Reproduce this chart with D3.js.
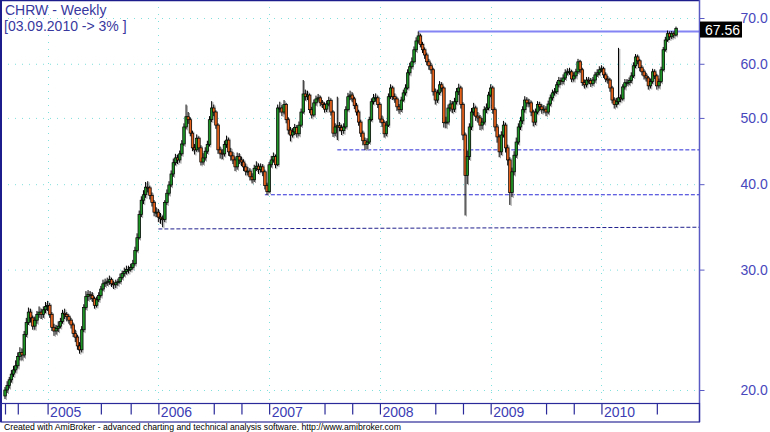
<!DOCTYPE html>
<html>
<head>
<meta charset="utf-8">
<script src="https://cdn.jsdelivr.net/npm/d3@7"></script>
<style>
  body { margin: 0; background: #fff; }
  svg text { font-family: Arial, "Liberation Sans", sans-serif; }
</style>
</head>
<body>
<div id="chart"></div>
<script>
// Weekly bars, first one is the week ending Fri 20 Aug 2004, last one 03.09.2010
const firstWeek = new Date(2004, 7, 20);
const firstOpen = 19.6;

const closes = [
  20.0,20.3,20.7,21.1,21.4,21.7,22.4,22.7,22.5,24.1,
  25.1,26.0,25.5,24.8,25.3,25.8,26.0,25.8,26.2,26.5,
  26.6,25.8,24.7,24.4,24.6,24.8,25.2,25.9,25.8,25.6,
  25.3,24.9,24.2,23.9,23.2,22.9,24.5,26.4,27.4,27.6,
  27.5,27.2,26.6,27.1,27.5,28.1,28.6,28.7,28.8,29.0,
  28.6,28.5,28.7,28.8,29.2,29.6,29.8,30.0,30.0,30.2,
  30.6,32.0,33.4,36.1,37.9,38.6,39.6,39.5,38.5,37.6,
  36.4,36.4,35.8,35.6,35.5,37.6,38.8,39.9,41.4,43.0,
  43.7,43.4,44.3,45.8,48.5,50.2,49.7,47.5,45.2,44.9,
  46.7,45.2,43.1,43.7,44.7,45.7,49.7,51.7,51.0,48.8,
  44.9,44.4,44.3,45.7,46.4,44.6,44.0,43.4,42.4,43.9,
  43.4,43.1,42.4,41.8,41.8,41.0,40.6,42.2,42.5,42.0,
  42.4,41.7,39.8,39.0,42.7,43.4,43.9,42.7,51.7,51.7,
  51.0,52.3,49.7,48.0,47.2,47.7,48.4,47.4,48.8,51.0,
  54.2,53.7,54.0,51.4,50.5,52.6,53.3,53.5,52.6,52.3,
  51.5,52.4,53.0,51.0,47.5,48.5,48.7,48.4,47.9,48.5,
  51.4,53.7,54.0,53.3,52.1,51.0,49.3,47.5,46.3,45.7,
  46.1,49.7,52.8,53.5,53.5,52.3,49.8,49.2,47.4,48.8,
  53.7,55.3,53.7,53.3,51.9,51.4,53.1,54.4,55.3,58.2,
  59.4,60.4,62.9,64.8,65.9,64.0,62.9,61.8,60.4,59.6,
  58.8,54.6,53.1,54.4,55.9,55.3,49.2,49.3,51.7,52.4,
  51.5,52.8,54.6,55.3,52.3,47.2,41.2,43.9,48.5,51.0,
  51.7,50.3,50.0,48.8,49.3,51.4,51.7,54.0,55.3,51.4,
  48.5,46.9,44.6,47.2,48.8,45.2,43.4,38.9,41.7,44.1,
  46.1,48.5,49.5,51.4,53.1,52.6,52.6,51.0,49.3,51.0,
  52.3,51.9,51.4,51.5,51.0,52.4,53.5,54.4,54.6,55.9,
  56.7,56.5,57.2,58.2,58.4,58.4,57.0,57.6,58.4,60.4,
  58.8,56.3,55.9,56.8,56.7,56.1,56.8,57.8,58.2,58.8,
  59.0,57.8,57.0,56.8,55.3,53.1,52.3,52.8,53.5,53.3,
  55.5,56.3,56.3,56.7,57.6,59.6,61.4,60.6,59.2,58.4,
  57.6,57.2,55.7,56.5,58.4,57.6,55.7,56.5,58.8,62.9,
  65.0,66.4,65.7,66.4,66.1,67.56
];

const highs = [
  20.2,20.6,20.9,21.4,21.7,22.1,22.7,23.1,23.0,24.4,
  25.5,26.4,26.3,25.7,25.6,26.1,26.5,26.3,26.5,26.9,
  27.0,26.8,26.0,25.0,24.9,25.2,25.5,26.2,26.3,26.0,
  25.8,25.5,25.1,24.5,24.1,23.5,24.8,26.7,27.9,28.0,
  27.9,27.8,27.4,27.4,27.8,28.4,29.0,29.1,29.2,29.4,
  29.2,28.9,29.0,29.1,29.6,29.9,30.2,30.4,30.4,30.6,
  31.0,32.4,33.9,36.6,38.4,39.2,40.3,40.4,39.8,38.9,
  37.9,37.0,36.8,36.3,36.0,37.9,39.3,40.4,41.9,43.6,
  44.3,44.2,44.8,46.4,49.1,52.3,51.0,50.1,47.9,45.8,
  47.3,47.0,45.6,44.4,45.3,46.3,50.3,52.9,52.3,51.3,
  49.1,45.4,45.0,46.3,47.1,46.8,45.2,44.6,43.8,44.5,
  44.4,43.9,43.5,42.9,42.4,42.2,41.5,42.7,43.2,42.9,
  42.9,42.8,42.0,40.2,43.1,44.0,44.5,44.2,52.3,52.8,
  52.2,53.1,52.6,50.1,48.5,48.3,49.0,48.8,49.4,51.6,
  56.8,55.0,54.8,54.3,51.9,53.2,53.9,54.2,53.9,53.1,
  52.7,53.0,53.7,53.4,51.3,49.1,53.7,49.3,48.9,49.1,
  52.0,54.4,54.8,54.5,53.7,52.6,51.4,49.7,47.9,46.8,
  46.7,50.2,53.4,54.2,54.3,53.9,52.7,50.4,49.6,49.5,
  54.3,56.0,55.7,54.3,53.7,52.4,53.7,55.0,56.0,58.9,
  60.2,61.3,63.6,65.6,66.9,66.4,64.6,63.4,62.3,61.0,
  60.2,59.2,55.2,55.0,56.6,56.4,55.6,50.2,52.3,53.1,
  52.9,53.5,55.3,56.1,55.7,52.7,47.6,44.8,49.1,51.7,
  52.6,52.1,51.0,50.5,50.0,52.0,52.5,54.6,56.0,55.7,
  51.8,49.0,47.3,47.8,49.5,49.2,45.7,43.8,42.3,44.7,
  46.8,49.1,50.2,52.0,53.8,53.6,53.3,53.0,51.4,51.6,
  52.9,52.8,52.4,52.2,52.0,53.0,54.1,55.0,55.3,56.5,
  57.4,57.3,57.9,58.9,59.1,59.2,58.8,58.3,59.0,61.0,
  60.8,59.2,56.9,57.4,57.4,57.2,57.4,58.4,58.9,59.5,
  59.7,59.4,58.3,57.6,57.2,55.7,53.6,53.5,63.3,54.1,
  56.0,57.0,57.0,57.3,58.3,60.3,62.0,61.9,61.0,59.7,
  58.9,58.2,57.6,57.1,59.0,58.9,58.0,57.1,59.4,63.5,
  65.7,67.1,66.9,67.0,66.9,68.0
];

const lows = [
  19.4,19.8,20.1,20.5,20.9,21.2,21.5,22.1,22.1,22.3,
  23.9,24.9,25.1,24.5,24.5,25.0,25.5,25.4,25.5,25.9,
  26.1,25.5,24.4,24.0,24.1,24.3,24.6,25.0,25.4,25.2,
  25.0,24.6,23.9,23.5,22.9,22.6,22.7,24.3,26.2,27.0,
  27.1,26.9,26.3,26.4,26.9,27.3,27.9,28.3,28.4,28.5,
  28.3,28.1,28.2,28.4,28.6,29.0,29.3,29.5,29.6,29.8,
  30.0,30.4,31.8,33.2,35.8,37.4,38.2,38.9,38.0,37.1,
  35.9,35.8,35.2,35.0,34.6,35.2,37.3,38.5,39.6,41.0,
  42.6,42.8,43.0,44.0,45.5,48.1,49.0,47.0,44.7,44.2,
  44.6,44.6,42.6,42.7,43.3,44.3,45.4,49.3,50.3,48.2,
  44.3,43.6,43.5,43.9,45.2,44.0,43.3,42.8,41.8,42.0,
  42.8,42.5,41.8,41.2,41.2,40.5,40.1,40.3,41.8,41.4,
  41.6,41.1,39.3,38.6,38.8,42.3,43.0,42.2,42.5,50.9,
  50.3,50.6,49.1,47.3,46.2,46.8,47.2,46.8,47.0,48.5,
  50.7,53.0,53.1,50.8,49.9,50.2,52.1,52.8,52.0,51.7,
  50.9,51.0,52.0,50.4,46.9,47.0,46.4,47.8,47.2,47.4,
  48.2,51.1,53.1,52.7,51.5,50.4,48.7,46.9,45.6,44.9,
  45.0,45.8,49.4,52.3,52.8,51.7,49.2,48.5,46.8,47.0,
  48.5,53.3,53.1,52.6,51.2,50.7,51.0,52.8,53.9,55.0,
  57.7,59.0,60.1,62.4,64.2,63.4,62.2,61.0,59.7,58.8,
  58.0,53.9,52.3,52.6,54.0,54.6,48.4,48.3,48.9,51.1,
  50.8,51.0,52.3,54.0,51.6,46.4,36.0,40.0,43.4,48.0,
  50.4,49.5,49.2,48.0,48.1,48.9,50.8,51.3,53.6,50.7,
  47.8,46.0,43.8,44.1,46.8,44.5,42.6,37.3,38.3,41.2,
  43.7,45.7,48.0,49.0,50.9,51.9,51.9,50.3,48.6,48.8,
  50.6,51.2,50.7,50.8,50.3,50.6,52.0,53.0,53.9,54.2,
  55.4,55.9,56.0,56.8,57.7,57.8,56.4,56.5,57.1,58.0,
  58.2,55.7,55.2,55.4,56.1,55.5,55.7,56.3,57.4,57.7,
  58.3,57.2,56.4,56.1,54.6,52.5,51.6,51.8,52.3,52.7,
  53.0,55.0,55.7,55.8,56.2,57.2,59.1,59.9,58.5,57.7,
  56.9,56.5,55.0,55.2,56.1,57.0,55.0,55.2,56.2,58.5,
  62.5,64.6,65.0,65.2,65.4,65.8
];

// price axis
const yTicks = [20, 30, 40, 50, 60, 70];

// drawn lines: bar index where each starts, price there, price at right edge, kind
const lineStarts = [72, 122, 156, 194];
const lineFrom   = [34.4, 38.6, 44.9, 66.9];
const lineTo     = [34.6, 38.6, 44.9, 66.9];
const lineKinds  = ["dashDark", "dash", "dash", "solid"];

const title1 = "CHRW - Weekly";
const title2 = "[03.09.2010 -> 3% ]";
const footer = "Created with AmiBroker - advanced charting and technical analysis software. http://www.amibroker.com";

// layout
const W = 770, H = 432;
const plot = { left: 1, top: 0, right: 699, bottom: 403 };
const axisBottom = 422;

const dates = closes.map((c, i) => d3.timeWeek.offset(firstWeek, i));
const opens = closes.map((c, i) => i === 0 ? firstOpen : closes[i - 1]); // weekly open ~ last close

const x = d3.scaleTime()
  .domain([dates[0], dates[dates.length - 1]])
  .range([5, 676]);

const y = d3.scaleLog()
  .domain([20, 70])
  .range([390, 18]);

const svg = d3.select("#chart").append("svg")
  .attr("width", W)
  .attr("height", H);

svg.append("rect").attr("width", W).attr("height", H).attr("fill", "#fff");

// grid: horizontal dotted at price ticks
svg.append("g")
  .attr("transform", "translate(" + plot.left + ",0)")
  .call(d3.axisLeft(y).tickValues(yTicks).tickSize(-(plot.right - plot.left)).tickFormat(""))
  .call(g => g.select(".domain").remove())
  .call(g => g.selectAll("line")
    .attr("stroke", "#7fe0dc")
    .attr("stroke-dasharray", "1,6"));

// first bar of each quarter gets a tick, first bar of the year gets a label
const quarterBars = dates.filter((d, i) => i > 0 && d.getMonth() % 3 === 0 && dates[i - 1].getMonth() !== d.getMonth());
const yearBars = quarterBars.filter(d => d.getMonth() === 0);

// grid: vertical dotted at years
svg.append("g")
  .selectAll("line")
  .data(yearBars)
  .enter().append("line")
    .attr("x1", d => Math.round(x(d)) + 0.5)
    .attr("x2", d => Math.round(x(d)) + 0.5)
    .attr("y1", plot.top)
    .attr("y2", plot.bottom)
    .attr("stroke", "#7fe0dc")
    .attr("stroke-dasharray", "1,6");

// trend / support lines
lineStarts.forEach(function(s, k) {
  const kind = lineKinds[k];
  svg.append("line")
    .attr("x1", x(dates[s]))
    .attr("x2", plot.right)
    .attr("y1", y(lineFrom[k]))
    .attr("y2", y(lineTo[k]))
    .attr("stroke", kind === "solid" ? "#8484f4" : (kind === "dashDark" ? "#20208e" : "#2b2bd6"))
    .attr("stroke-width", kind === "solid" ? 2 : 1)
    .attr("stroke-dasharray", kind === "solid" ? null : "4,2");
});

// candles
const bars = svg.append("g").selectAll("g")
  .data(closes.map((c, i) => ({ date: dates[i], o: opens[i], h: highs[i], l: lows[i], c: c })))
  .enter().append("g");

// grey shadow a pixel to the right
bars.append("line")
  .attr("x1", d => x(d.date) + 1.3)
  .attr("x2", d => x(d.date) + 1.3)
  .attr("y1", d => y(d.h) + 1)
  .attr("y2", d => y(d.l) + 1)
  .attr("stroke", "#a0a0a0")
  .attr("stroke-width", 1);

bars.append("line")
  .attr("x1", d => x(d.date))
  .attr("x2", d => x(d.date))
  .attr("y1", d => y(d.h))
  .attr("y2", d => y(d.l))
  .attr("stroke", "#000")
  .attr("stroke-width", 1);

bars.append("rect")
  .attr("x", d => x(d.date) - 1.2)
  .attr("width", 2.5)
  .attr("y", d => y(Math.max(d.o, d.c)))
  .attr("height", d => Math.max(1, Math.abs(y(d.o) - y(d.c))))
  .attr("fill", d => d.c >= d.o ? "#1f9426" : "#e4621c")
  .attr("stroke", "#000")
  .attr("stroke-width", 0.7);

// frame of the price pane
svg.append("line").attr("x1", 1).attr("x2", 1).attr("y1", 0).attr("y2", axisBottom)
  .attr("stroke", "#1c1c8c").attr("stroke-width", 2);
svg.append("line").attr("x1", 0).attr("x2", plot.right).attr("y1", 0.5).attr("y2", 0.5)
  .attr("stroke", "#1c1c8c").attr("stroke-width", 1.5);
svg.append("line").attr("x1", plot.right + 0.5).attr("x2", plot.right + 0.5).attr("y1", 0).attr("y2", axisBottom)
  .attr("stroke", "#5a5ac4").attr("stroke-width", 1.5);

// price axis on the right
svg.append("g")
  .attr("transform", "translate(" + (plot.right + 0.5) + ",0)")
  .call(d3.axisRight(y).tickValues(yTicks).tickFormat(d3.format(".1f")).tickSize(5).tickPadding(36))
  .call(g => g.select(".domain").remove())
  .call(g => g.selectAll("line").attr("stroke", "#5a5ac4"))
  .call(g => g.selectAll("text")
    .attr("fill", "#4848bc")
    .style("font-size", "14px"));

// last price label
const last = closes[closes.length - 1];
svg.append("rect")
  .attr("x", plot.right + 1).attr("y", y(last) - 7)
  .attr("width", 42).attr("height", 16)
  .attr("fill", "#000");
svg.append("text")
  .attr("x", plot.right + 6).attr("y", y(last) + 6)
  .attr("fill", "#fff")
  .style("font-size", "14px")
  .text(d3.format(".2f")(last));

// date axis box
svg.append("rect")
  .attr("x", 1).attr("y", plot.bottom + 0.5)
  .attr("width", plot.right - 0.5).attr("height", axisBottom - plot.bottom - 0.5)
  .attr("fill", "none").attr("stroke", "#2a2a9a").attr("stroke-width", 1.2);

const xAxis = d3.axisBottom(x)
  .tickValues([dates[0]].concat(quarterBars.filter(d => d.getMonth() !== 3)))
  .tickSize(11)
  .tickPadding(0)
  .tickFormat(d => d.getMonth() === 0 && d !== dates[0] ? d3.timeFormat("%Y")(d) : "");

svg.append("g")
  .attr("transform", "translate(0," + (plot.bottom + 0.5) + ")")
  .call(xAxis)
  .call(g => g.select(".domain").remove())
  .call(g => g.selectAll("line").attr("stroke", "#2a2a9a").attr("stroke-width", 1.2))
  .call(g => g.selectAll("text")
    .attr("fill", "#3c3cb4")
    .attr("text-anchor", "start")
    .attr("dx", 2)
    .attr("y", 0)
    .attr("dy", 13)
    .style("font-size", "14px"));

// titles
svg.append("text").attr("x", 5).attr("y", 15)
  .attr("fill", "#38389e").style("font-size", "14px").text(title1);
svg.append("text").attr("x", 4).attr("y", 31)
  .attr("fill", "#38389e").style("font-size", "14px").text(title2);

svg.append("text").attr("x", 4).attr("y", 429.5)
  .attr("fill", "#000").style("font-size", "8.7px").text(footer);
</script>
</body>
</html>
